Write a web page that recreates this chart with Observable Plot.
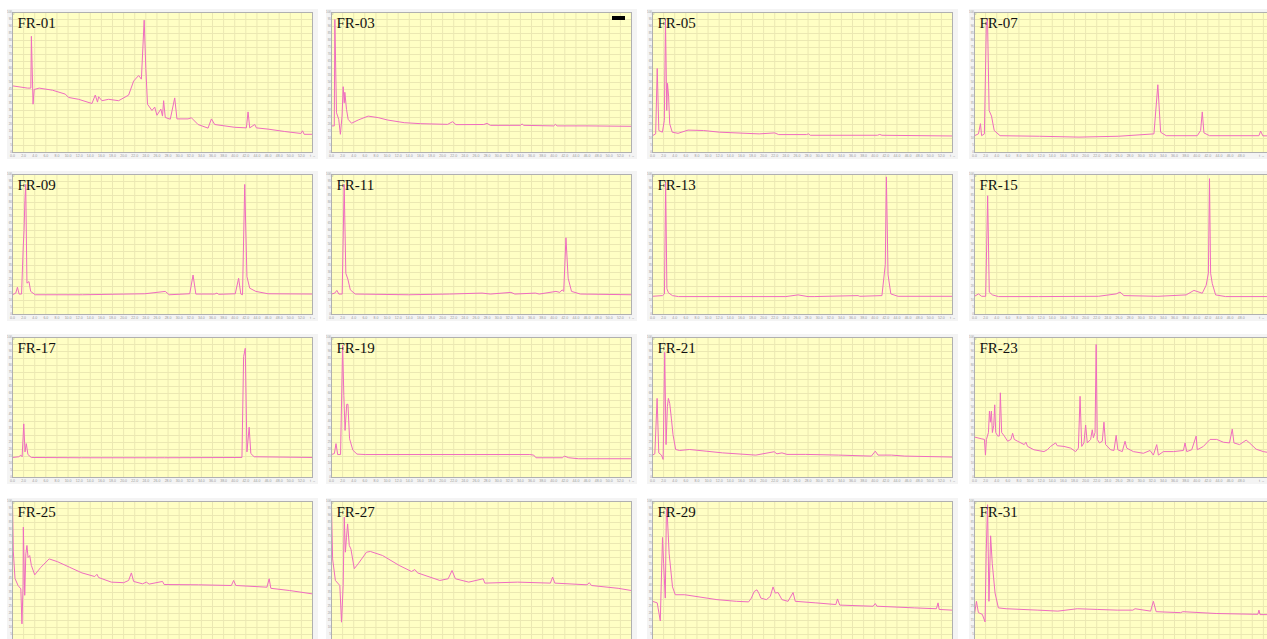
<!DOCTYPE html>
<html><head><meta charset="utf-8">
<script src="https://cdn.jsdelivr.net/npm/d3@7"></script>
<script src="https://cdn.jsdelivr.net/npm/@observablehq/plot@0.6"></script>
<style>
body{margin:0;background:#fff;}
#wrap{position:relative;width:1267px;height:639px;overflow:hidden;background:#fff;}
.panel{position:absolute;}
.redact{position:absolute;background:#000;}
</style></head><body><div id="wrap"></div>
<script>
// Tick values (minutes / relative intensity)
const xTicks = [0,2,4,6,8,10,12,14,16,18,20,22,24,26,28,30,32,34,36,38,40,42,44,46,48,50,52,54];
const yTicks = [0,5,10,15,20,25,30,35,40,45,50,55,60,65,70,75,80,85,90,95,100];

// Panel names
const panelNames = ["FR-01","FR-03","FR-05","FR-07","FR-09","FR-11","FR-13","FR-15","FR-17","FR-19","FR-21","FR-23","FR-25","FR-27","FR-29","FR-31"];

// Chromatogram traces: [retention time, relative intensity]
const fr01 = [[0,47.6],[2.7,46],[3.3,46],[3.4,83],[3.7,34.5],[3.9,45],[4.8,46],[7.2,44.5],[9.5,41.7],[10.1,39.3],[11.9,38],[14.3,35],[14.9,41],[15.3,36],[15.5,39.8],[16.1,37],[17.3,38],[19.1,37],[20.9,41],[21.8,51],[22.7,55],[23.2,52.4],[23.7,94.5],[24,60],[24.3,34.5],[25.1,30],[25.6,32.4],[26,26.6],[26.7,31],[27,26],[27.2,37],[27.5,25],[28.4,23.8],[29.2,39],[29.6,24],[31.6,24],[32.2,24.8],[33.4,20],[35.2,17.4],[35.8,24],[36.4,20],[40,18],[42.1,17.6],[42.4,29],[42.7,17.6],[43.6,20],[43.9,17.6],[46,16.7],[49,15],[51.9,13.6],[52.2,15.5],[52.5,13],[54,13]];
const fr03 = [[0,19],[0.5,19],[0.6,95],[0.9,28.4],[1.3,23.7],[1.6,13],[1.9,26],[2.1,47],[2.3,35.5],[2.4,43],[2.7,30.8],[3,23.7],[3.6,20.9],[4.8,23.2],[6.6,26],[8.4,24.9],[10.1,23.2],[13.1,21.3],[16,20.6],[20.9,20.1],[21.8,22],[22.4,19.9],[27.4,20],[28,20.8],[28.6,19.4],[34,19.4],[34.3,20.4],[34.6,19.4],[40,19],[40.3,20.1],[40.6,19],[46,19],[54,18.7]];
const fr05 = [[0,12],[0.57,13.3],[0.85,60],[1.14,15.7],[1.78,14.5],[2.13,22.9],[2.34,95],[2.56,30],[2.7,49.4],[2.9,39.8],[3.1,20.5],[3.55,14.5],[4.6,13.7],[6.4,16],[9.2,15.7],[12.1,14.5],[19.2,13.3],[22,14],[22.7,12.8],[27.7,12.8],[28.1,13.3],[28.4,12.3],[40.5,12.3],[40.9,12.9],[41.3,12.3],[54,11.8]];
const fr07 = [[0,12],[0.71,13.3],[1.07,20.6],[1.28,12],[1.78,13.3],[2.13,90.8],[2.34,95.6],[2.63,30],[3.06,26],[3.55,15.7],[4.6,12],[11.7,11.6],[18.8,11],[25.9,11.6],[32.3,13.3],[33,48.4],[33.5,14.5],[34.5,12],[40.1,12],[40.7,15.7],[41,29],[41.3,14],[42.3,12],[51.2,12],[51.5,15.3],[51.9,11.9],[54,11.9]];
const fr09 = [[0,14.1],[0.59,15.3],[0.89,19.5],[1.19,14.6],[1.63,14.6],[1.93,48.2],[2.08,60],[2.23,81.2],[2.38,92.9],[2.6,22.4],[2.97,23.5],[3.27,16.5],[4.09,14.1],[12.6,14.1],[23.8,14.8],[27.5,16.5],[28.2,14.1],[31.9,14.8],[32.5,28.2],[33,14.6],[36.4,14.6],[36.8,15.3],[37.1,14.4],[40.1,14.8],[40.7,25.9],[41.1,14.6],[41.4,14.1],[41.8,92.9],[42.2,27],[42.7,18.8],[43.8,16.5],[46,14.8],[54,14.6]];
const fr11 = [[0,14.6],[0.59,15.3],[0.96,17.2],[1.33,14.6],[1.92,14.6],[2.28,92.9],[2.58,29.4],[2.95,25.2],[3.39,17.6],[4.27,14.6],[13.9,14.1],[21.2,14.6],[27.1,15.3],[28.6,14.6],[32.3,15.8],[33,14.6],[36.7,15.3],[37.4,14.6],[40.4,16.5],[41.1,15.8],[41.5,17.6],[41.8,16.5],[42.2,54.8],[42.6,25.9],[43.2,16.5],[44.8,14.6],[54,14.1]];
const fr13 = [[0,13],[1.8,13.5],[2.15,14.7],[2.37,94.6],[2.59,18.4],[2.87,15.5],[3.59,13.5],[4.67,12.8],[19,12.8],[24,12.8],[26.2,14],[28,12.8],[29.1,12.8],[37,13.5],[37.3,13],[41.3,13.5],[41.9,35.6],[42.1,98.3],[42.4,28.3],[42.9,14.7],[44.2,13],[54,13]];
const fr15 = [[0,13],[0.72,14.7],[1.29,13],[2.01,13],[2.37,84.8],[2.66,16],[3.23,14],[4.31,12.8],[11.5,12.8],[22.3,13],[25.5,14.7],[26.2,16],[26.9,13.5],[33,13],[38.1,14],[39.5,17.2],[41,15.2],[41.7,20.9],[42.1,29.5],[42.3,97],[42.5,29.5],[42.8,22.1],[43.4,14],[45.2,12.8],[54,12.8]];
const fr17 = [[0,14.3],[1.13,14.8],[1.5,16],[1.73,14.8],[2.03,38.3],[2.25,18.3],[2.48,24.2],[2.78,16.4],[3.38,14.3],[12.4,14.1],[27.4,14.1],[41.3,14.3],[41.6,86.4],[41.9,92.3],[42.2,18.3],[42.6,35.9],[42.9,17.1],[43.5,14.8],[54,14.3]];
const fr19 = [[0,16.4],[0.52,17.1],[0.81,24.2],[1.11,16.4],[1.63,16.4],[2,94.6],[2.22,58.7],[2.44,33.6],[2.74,52.3],[2.96,52.3],[3.25,27.7],[3.85,19.5],[4.59,16.7],[6.07,16.4],[35.7,16.4],[36.4,16],[36.8,14.1],[41.6,14.1],[41.9,15.3],[42.7,14.1],[44.5,13.4],[54,13.4]];
const fr21 = [[0,16],[0.42,16.9],[0.83,56.5],[1.13,17.6],[1.61,16],[1.91,12.9],[2.2,89.4],[2.44,23.5],[2.68,50.6],[2.86,56.5],[3.1,52.9],[3.39,42.4],[3.69,30.6],[4.17,20],[4.88,19.3],[6.67,20],[9.65,18.8],[12.6,17.6],[18.6,16],[21.9,18.4],[22.4,16.9],[23.3,17.6],[24.2,16.5],[27.5,16.5],[33.5,16],[39.4,15.3],[40.1,18.8],[40.6,16],[43,16],[45.4,15.3],[54,14.6]];
const fr23 = [[0,28.9],[1.19,27.7],[1.79,27.2],[1.97,16],[2.15,27.2],[2.51,32.1],[2.69,47.4],[2.86,39.5],[3.04,47.4],[3.22,32.1],[3.46,37],[3.64,51.9],[3.82,32.1],[4.18,29.6],[4.47,29.6],[4.65,60.5],[4.89,32.1],[5.37,29.6],[5.97,25.9],[6.56,27.2],[6.86,31.6],[7.16,27.2],[7.76,25.9],[8.95,23.5],[9.25,25.2],[9.55,22.2],[10.7,19.8],[12.5,18.5],[13.1,19.8],[13.7,22.2],[14.6,24.7],[14.9,22.7],[16.1,22.2],[17.3,21],[18.2,18.5],[18.7,21],[19,58],[19.3,22.2],[19.7,24.7],[20,37.5],[20.3,24.7],[20.9,27.2],[21.2,34.1],[21.4,28.4],[21.7,32.1],[21.9,95],[22.1,27.2],[22.5,24.7],[23,25.9],[23.3,39.5],[23.6,23.5],[24.5,19.8],[25.1,19.3],[25.5,30.1],[25.8,19.8],[26.6,18.5],[27.1,25.9],[27.4,21],[28.6,18.5],[30.4,17.3],[31.6,19.3],[32.2,16],[32.8,23.5],[33.1,16],[34,18.5],[35.8,18.5],[37.6,19.3],[37.9,24.7],[38.2,18.5],[39.1,19.8],[39.9,29.6],[40.1,19.8],[41.2,22.2],[42.4,27.2],[43.6,27.2],[44.8,25.2],[45.9,24.7],[46.4,34.6],[46.7,24.7],[47.7,23.5],[48.9,26.7],[49.5,24.7],[50.7,20.2],[52,18.5],[53.7,17.3]];
const fr25 = [[0,100],[0.15,64],[0.45,45],[1.0,40],[1.5,37.6],[1.7,12.6],[1.9,40],[1.95,81.7],[2.2,33],[2.4,62.6],[2.6,68.6],[2.8,60],[3.1,61.4],[3.4,54.3],[4.0,47.6],[5.1,53],[6.6,59],[8.1,57],[10.3,53],[12.5,49],[14.8,46.4],[15.2,48],[15.5,45.7],[17.8,42.4],[20,42],[20.9,43.6],[21.4,49],[21.8,42.9],[23.4,41.2],[24.1,42.4],[24.6,41],[27,42.9],[27.3,40.7],[33.5,40.5],[39.4,40],[39.8,43.6],[40.2,40],[45.8,38.8],[46.2,44.8],[46.5,38],[49.9,36.4],[54,34]];
const fr27 = [[0,97],[0.2,59],[0.7,43.6],[1.5,40],[1.8,13.8],[2.1,40],[2.3,88.8],[2.5,63.8],[2.7,74.5],[2.9,84],[3.2,68.6],[3.5,66],[4.1,52],[4.8,55.5],[6.3,63.8],[7,64.3],[9.2,61.4],[12.2,54.3],[14.4,50],[15,51.4],[15.5,49],[19.5,43.6],[21,44.8],[21.7,50.7],[22.3,44.8],[24.7,42.4],[27.3,44.8],[27.6,41.7],[33.5,42.4],[39.4,41.7],[39.8,46],[40.2,41.7],[46,40.5],[46.4,42],[46.8,40],[51.6,38],[54,36.4]];
const fr29 = [[0,28.7],[0.85,27.6],[1.4,14.7],[1.8,74.3],[2,55.6],[2.3,31],[2.5,93],[2.6,95.3],[3,62.6],[3.6,39],[4.1,33.4],[5.8,33.4],[11.6,29.9],[15.1,28.7],[17.3,28.3],[17.8,31],[18.3,35.7],[18.8,36.9],[19.2,34],[19.5,31],[20.5,29.9],[21.2,32.2],[21.7,39],[22.1,34.6],[22.6,35],[23.3,29.9],[24.4,28.7],[25.3,35],[25.7,28.7],[29.4,27.6],[33,26.4],[33.3,30.4],[33.7,26],[39.7,25.2],[40.1,27.1],[40.4,25.2],[47.2,24],[51.1,23.4],[51.4,27.6],[51.6,22.9],[54,22.4]];
const fr31 = [[0,19.4],[0.35,28.7],[0.7,20.6],[1.4,19.4],[1.9,14],[2.1,62.6],[2.35,97.7],[2.6,28.7],[2.9,75.5],[3.2,55.6],[3.7,34.6],[4.3,24],[5.7,23.4],[11.4,22.4],[15,21.7],[18.5,23.4],[22.1,22.9],[25.7,22.4],[28.5,22.4],[28.9,23.4],[31.7,21.7],[32.2,28.7],[32.7,21.3],[37.1,20.6],[37.5,21.3],[43.5,20],[51,19.4],[51.2,22.4],[51.4,19.2],[54,19.2]];

const traces = [fr01,fr03,fr05,fr07,fr09,fr11,fr13,fr15,fr17,fr19,fr21,fr23,fr25,fr27,fr29,fr31];

const wrap = document.getElementById("wrap");
const PAGE_W = 1267;
const colX = [12,331,652,974], rowY = [12,174,337,501];
const mL = 5, mT = 3, mB = 7, W = 300, H = 140, T_MAX = 54;

traces.forEach((tr, i) => {
  const c = i % 4, r = Math.floor(i / 4);
  const pts = tr.map(([t, v]) => ({t, v}));
  // the right-hand column is cut by the screenshot edge: show only its visible part
  const cut = c === 3;
  const w = cut ? PAGE_W - colX[c] : W;
  const mR = cut ? 0 : 6;
  const tMax = T_MAX * w / W;
  const xIn = xTicks.filter(d => d <= tMax);
  const xLab = xTicks.filter(d => d <= (cut ? 48 : 52));
  const yLab = r === 3 ? yTicks.filter(d => d >= 5) : yTicks;
  const border = {stroke: "#b0b0b0"};
  const marks = [
    Plot.frame({fill: "#ffffc4", stroke: null}),
    Plot.gridX(xIn, {stroke: "#ebe8b2", strokeOpacity: 1}),
    Plot.gridY(yTicks, {stroke: "#ebe8b2", strokeOpacity: 1}),
    Plot.axisY(yLab, {tickSize: 0, tickPadding: 0.5, fontSize: 3, fill: "#999"}),
    Plot.line(pts, {x: "t", y: "v", stroke: "#ef6cbf", strokeWidth: 1, clip: true}),
    cut ? [Plot.ruleY([0, 100], border), Plot.ruleX([0], border)] : Plot.frame(border),
    Plot.text([panelNames[i]], {frameAnchor: "top-left", dx: 5, dy: 5, lineAnchor: "top", fontSize: 15, fontFamily: "Liberation Serif", fill: "#111"})
  ];
  if (r < 3) marks.push(Plot.axisX(xLab, {tickSize: 0, tickPadding: 1.5, fontSize: 3.5, fill: "#999", tickFormat: d => d.toFixed(1)}));
  const chart = Plot.plot({
    width: w + mL + mR, height: H + mT + mB,
    marginLeft: mL, marginRight: mR, marginTop: mT, marginBottom: mB,
    style: {background: "#f4f4f4", fontFamily: "Arial, Liberation Sans"},
    x: {domain: [0, tMax], axis: null},
    y: {domain: [0, 100], axis: null},
    marks
  });
  chart.classList.add("panel");
  chart.style.left = (colX[c] - mL) + "px";
  chart.style.top = (rowY[r] - mT) + "px";
  wrap.appendChild(chart);
});

// redaction block in the FR-03 screenshot
const blk = document.createElement("div");
blk.className = "redact";
blk.style.left = "612px"; blk.style.top = "16px"; blk.style.width = "13px"; blk.style.height = "4px";
wrap.appendChild(blk);
</script></body></html>
